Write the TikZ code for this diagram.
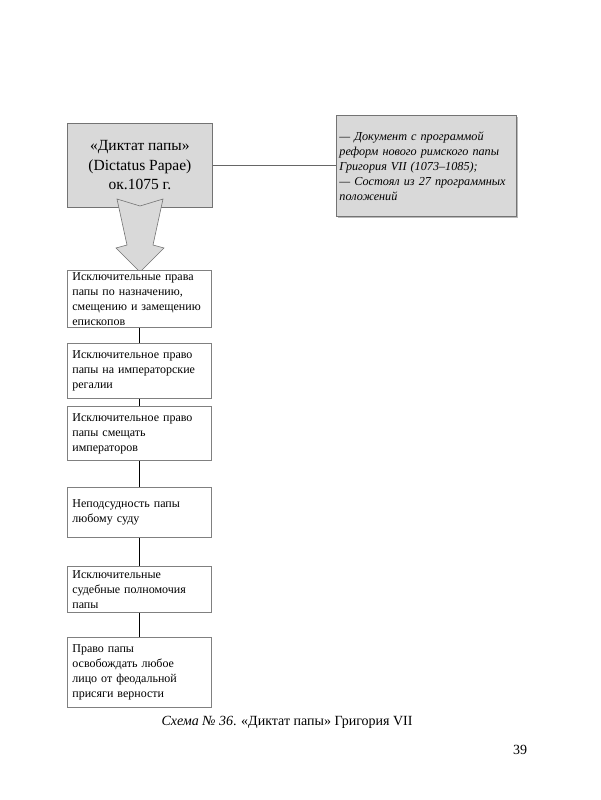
\documentclass[tikz,border=0pt]{standalone}
\usepackage{fontspec}
\setmainfont{Liberation Serif}
\usetikzlibrary{shadows}
\begin{document}
\begin{tikzpicture}[x=1pt,y=-1pt,
 graybox/.style={draw=black!55, fill=black!15, line width=0.8pt},
 item/.style={draw=black!50, line width=0.8pt, fill=white, minimum width=144pt, text width=134pt, inner xsep=5pt, inner ysep=2pt, align=left, font=\fontsize{12}{15}\selectfont, anchor=north west},
 link/.style={line width=1.5pt, black},
 thinlink/.style={line width=0.6pt, black!60}]
\useasboundingbox (0,0) rectangle (600,800);
\node[graybox, minimum width=145pt, minimum height=84pt, anchor=north west, align=center, font=\fontsize{15.5}{19.5}\selectfont] (top) at (67,123) {«Диктат папы»\\(Dictatus Papae)\\ок.1075 г.};
\node[graybox, drop shadow={shadow xshift=1.5pt, shadow yshift=-1.5pt, fill=black!45, opacity=0.6}, minimum width=180pt, minimum height=101pt, anchor=north west, text width=174pt, inner xsep=3pt, align=left, font=\itshape\fontsize{12.2}{15}\selectfont] (note) at (336,115) {— Документ с программой\\реформ нового римского папы\\Григория VII (1073–1085);\\— Состоял из 27 программных\\положений};
\draw[thinlink] (top.east) -- (top.east -| note.west);
\filldraw[fill=black!15, draw=black!55, line width=0.6pt] (117,199) -- (140,206) -- (163,199) -- (153,245) -- (164,248) -- (140,272) -- (116,248) -- (127,245) -- cycle;
\node[item, minimum height=57pt] (b1) at (67,270) {Исключительные права\\папы по назначению,\\смещению и замещению\\епископов};
\node[item, minimum height=55pt] (b2) at (67,343) {Исключительное право\\папы на императорские\\регалии};
\node[item, minimum height=54pt] (b3) at (67,406) {Исключительное право\\папы смещать\\императоров};
\node[item, minimum height=50pt] (b4) at (67,487) {Неподсудность папы\\любому суду};
\node[item, minimum height=46pt] (b5) at (67,566) {Исключительные\\судебные полномочия\\папы};
\node[item, minimum height=70pt] (b6) at (67,637) {Право папы\\освобождать любое\\лицо от феодальной\\присяги верности};
\draw[link] (b1) -- (b2);
\draw[link] (b2) -- (b3);
\draw[link] (b3) -- (b4);
\draw[link] (b4) -- (b5);
\draw[link] (b5) -- (b6);
\node[anchor=west, font=\fontsize{14}{16}\selectfont] (cap) at (158,722) {\textit{Схема № 36}. «Диктат папы» Григория VII};
\node[font=\fontsize{14}{16}\selectfont] (pg) at (520,750) {39};
\end{tikzpicture}
\end{document}
